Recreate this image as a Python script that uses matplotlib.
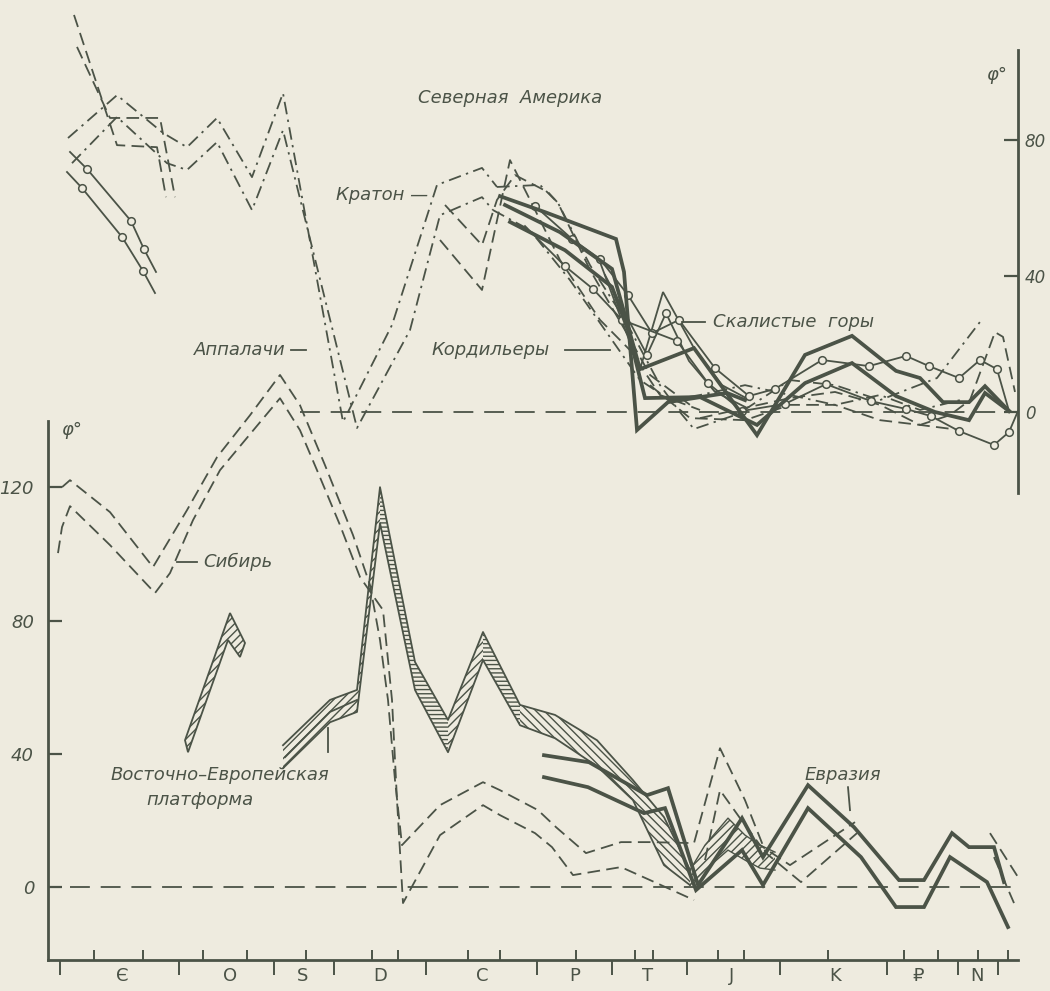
import matplotlib
matplotlib.use('Agg')
import matplotlib.pyplot as plt
import matplotlib.transforms as mtransforms

INK = '#4b5347'
PAPER = '#eeebdf'

# ---------------- time axis (positions along the geological scale) ----------------
period_labels = ['Є', 'O', 'S', 'D', 'C', 'P', 'T', 'J', 'K', '₽', 'N']
period_label_pos = [122, 230, 303, 380, 482, 575, 648, 732, 835, 918, 977]
period_bounds = [60, 179, 274, 334, 426, 537, 612, 687, 780, 887, 958, 998]
stage_ticks = [94, 143, 203, 247, 306, 372, 398, 468, 500, 576, 635, 653, 718, 744,
               828, 904, 938, 978, 1008]

# ---------------- North America (upper panel, latitude, deg) ----------------
na_cam_circ_a_x = [70, 87, 131, 144, 156]
na_cam_circ_a_y = [76.5, 71.5, 56.2, 47.9, 41.2]
na_cam_circ_b_x = [67, 82, 122, 143, 155]
na_cam_circ_b_y = [70.6, 65.9, 51.5, 41.5, 35.0]
na_cam_dash_a_x = [74, 117, 157, 166]
na_cam_dash_a_y = [116.8, 78.5, 77.9, 63.2]
na_cam_dash_b_x = [77, 110, 160, 175]
na_cam_dash_b_y = [107.4, 86.5, 86.5, 63.2]

na_app_a_x = [68, 117, 163, 187, 217, 252, 283, 343, 392, 437, 482, 497]
na_app_a_y = [80.6, 93.2, 82.1, 77.9, 86.5, 69.1, 93.8, -2.9, 25.6, 66.8, 71.8, 66.2]
na_app_b_x = [72, 117, 167, 187, 217, 252, 283, 357, 410, 440, 482, 493]
na_app_b_y = [73.2, 86.8, 73.2, 71.2, 79.4, 59.4, 82.9, -4.7, 24.1, 57.9, 63.2, 59.4]

na_kr_a_x = [440, 482, 510, 530, 560, 600, 630, 660, 700]
na_kr_a_y = [50.6, 35.9, 74.1, 62.4, 44.7, 27.1, 18.2, 5.0, 0.6]
na_kr_b_x = [445, 482, 497, 515, 548, 558, 590, 625, 650, 690]
na_kr_b_y = [60.9, 49.1, 62.4, 69.7, 64.7, 61.5, 41.8, 24.1, 10.9, 2.1]

na_t1_x = [500, 545, 616, 624, 637, 668, 727, 745]
na_t1_y = [63.5, 58.8, 50.9, 41.2, -5.3, 2.9, 5.6, 3.5]
na_t2_x = [505, 560, 612, 640, 694, 757, 805, 852, 896, 920, 943, 969, 985, 1009]
na_t2_y = [60.9, 52.9, 42.1, 12.6, 18.8, -6.8, 16.8, 22.4, 12.1, 10.0, 2.9, 2.9, 7.6, 0.3]
na_t3_x = [510, 565, 612, 628, 645, 700, 757, 805, 852, 896, 935, 969, 985, 1009]
na_t3_y = [55.9, 47.6, 36.8, 24.1, 4.1, 4.4, -3.8, 8.5, 14.4, 4.7, 0.0, -2.4, 5.6, 0.3]

na_c1_x = [535, 572, 600, 628, 652, 679, 715, 749, 775, 822, 869, 906, 929, 959, 980, 997, 1009]
na_c1_y = [60.6, 50.9, 45.0, 34.4, 23.2, 27.1, 12.9, 4.7, 6.8, 15.3, 13.5, 16.5, 13.5, 10.0,
           15.3, 12.6, 0.3]
na_c2_x = [525, 565, 593, 622, 677, 708, 742, 785, 826, 871, 906, 931, 959, 994, 1009, 1018]
na_c2_y = [54.7, 42.9, 36.2, 27.1, 20.9, 8.5, 0.3, 2.4, 8.2, 3.2, 0.9, -1.2, -5.6, -9.7,
           -5.9, 0.3]

na_r1_x = [600, 640, 663, 694, 722, 750]
na_r1_y = [44.1, 12.6, 35.3, 18.8, 7.9, 3.5]
na_r2_x = [605, 647, 666, 689, 715, 745]
na_r2_y = [40.3, 16.8, 29.1, 15.0, 5.9, 1.5]

na_d1_x = [700, 745, 790, 835, 880, 920, 950, 970, 995, 1003, 1015]
na_d1_y = [-1.8, 1.2, 4.1, 5.9, 2.1, -3.8, -0.9, 3.5, 23.5, 22.1, 5.9]
na_d2_x = [650, 690, 745, 790, 835, 880, 920, 960]
na_d2_y = [7.9, -1.8, -2.4, 2.1, 2.1, -2.4, -3.8, -5.3]
na_dd1_x = [497, 540, 558, 590, 625, 660, 679, 694, 738, 790, 835, 880, 937, 980]
na_dd1_y = [66.2, 66.8, 61.5, 43.2, 27.1, 7.9, 0.3, -5.0, -0.6, 9.4, 7.9, 3.5, 10.0, 26.5]
na_dd2_x = [493, 530, 570, 605, 640, 670, 700, 745, 790, 835, 880, 920, 960]
na_dd2_y = [59.4, 53.5, 38.8, 24.1, 9.4, 3.5, 5.0, 7.9, 5.0, 2.1, 5.0, 0.6, 3.5]

# ---------------- Eurasia (lower panel, latitude, deg) ----------------
ea_sib_a_x = [62, 70, 110, 153, 187, 217, 250, 280, 300, 325, 353, 370, 380, 388, 395, 402,
              440, 483, 500, 538, 556, 586, 621, 650, 694, 720, 745, 766, 801, 857]
ea_sib_a_y = [120.1, 122.2, 112.6, 96.1, 113.2, 129.1, 141.7, 153.8, 144.7, 126.7, 105.7,
              90.7, 74.2, 56.2, 32.1, 12.6, 24.6, 31.5, 29.1, 23.1, 18.0, 10.2, 13.5, 13.5,
              13.2, 41.7, 26.1, 10.2, 1.5, 16.2]
ea_sib_b_x = [58, 62, 70, 110, 155, 170, 193, 220, 280, 300, 317, 340, 360, 383, 392, 397,
              403, 440, 483, 500, 535, 552, 573, 621, 650, 694]
ea_sib_b_y = [100.3, 108.1, 114.4, 102.7, 88.3, 94.3, 110.2, 125.2, 146.8, 137.2, 125.2,
              108.7, 93.1, 83.2, 56.2, 26.1, -4.8, 15.6, 24.6, 21.6, 16.2, 12.0, 3.6, 6.0,
              2.1, -3.9]
ea_jk_dash_x = [705, 720, 740, 760, 790, 855]
ea_jk_dash_y = [8.1, 29.1, 20.7, 12.6, 6.6, 19.5]
ea_n_dash_a_x = [990, 1018]
ea_n_dash_a_y = [16.2, 3.0]
ea_n_dash_b_x = [994, 1014]
ea_n_dash_b_y = [9.0, -4.8]

ea_t1_x = [544, 589, 647, 668, 698, 742, 763, 808, 854, 899, 924, 952, 969, 994, 1004]
ea_t1_y = [39.6, 37.5, 27.6, 29.7, 0.6, 20.7, 9.0, 30.6, 18.0, 2.1, 2.1, 16.2, 12.0, 12.0, 1.5]
ea_t2_x = [544, 588, 644, 665, 696, 742, 763, 808, 861, 896, 924, 950, 987, 1008]
ea_t2_y = [33.0, 30.0, 22.2, 23.7, -0.9, 11.1, 0.6, 23.7, 9.0, -6.0, -6.0, 9.0, 1.5, -12.0]

# East-European platform (hatched bands)
ee_ord_outer_x = [185, 230, 245]
ee_ord_outer_y = [44.1, 82.3, 73.3]
ee_ord_inner_x = [188, 228, 240]
ee_ord_inner_y = [40.5, 74.2, 69.1]
ee_band_x = [283, 330, 357, 380, 415, 448, 483, 520, 555, 597, 633, 664, 690]
ee_band_hi = [42.6, 56.2, 59.2, 120.1, 67.6, 50.2, 76.6, 54.7, 51.7, 44.1, 32.1, 21.0, 5.1]
ee_band_lo = [35.7, 49.5, 52.6, 109.3, 59.2, 40.5, 68.2, 48.6, 44.7, 36.3, 26.1, 6.6, 0.6]
ee_sil_mid_x = [285, 330, 357]
ee_sil_mid_y = [39.0, 52.6, 56.2]
ea_jband_x = [690, 705, 728, 745, 760, 775]
ea_jband_hi = [5.1, 12.6, 20.7, 15.6, 12.6, 10.5]
ea_jband_lo = [0.6, 5.1, 11.1, 8.1, 5.7, 5.1]

# ---------------- figure ----------------
plt.rcParams['hatch.color'] = INK
plt.rcParams['hatch.linewidth'] = 1.0

fig = plt.figure(figsize=(10.5, 9.91), dpi=100, facecolor=PAPER)
pos = [48 / 1050, 31 / 991, 970 / 1050, 960 / 991]
ax_lo = fig.add_axes(pos)
ax_up = fig.add_axes(pos)
for ax in (ax_lo, ax_up):
    ax.set_facecolor('none')
    ax.set_xlim(48, 1018)
ax_lo.set_ylim(-21.9, 266.4)
ax_up.set_ylim(-161.2, 121.2)

LW = 1.3
THICK = 2.7
DASH = (0, (7, 3.5))
DASHDOT = (0, (7, 3, 1.3, 3))


def draw(ax, x, y, kind, circles=None):
    kw = dict(color=INK, solid_joinstyle='miter', clip_on=False)
    if kind == 'thick':
        ax.plot(x, y, lw=THICK, **kw)
    elif kind == 'solid':
        ax.plot(x, y, lw=LW, **kw)
    elif kind == 'dash':
        ax.plot(x, y, lw=LW, ls=DASH, **kw)
    elif kind == 'dashdot':
        ax.plot(x, y, lw=LW, ls=DASHDOT, **kw)
    elif kind == 'circ':
        ax.plot(x, y, lw=LW, marker='o', ms=5.5, mfc=PAPER, mec=INK, mew=1.1,
                markevery=circles, **kw)


# North America
draw(ax_up, na_cam_circ_a_x, na_cam_circ_a_y, 'circ', [1, 2, 3])
draw(ax_up, na_cam_circ_b_x, na_cam_circ_b_y, 'circ', [1, 2, 3])
draw(ax_up, na_cam_dash_a_x, na_cam_dash_a_y, 'dash')
draw(ax_up, na_cam_dash_b_x, na_cam_dash_b_y, 'dash')
draw(ax_up, na_app_a_x, na_app_a_y, 'dashdot')
draw(ax_up, na_app_b_x, na_app_b_y, 'dashdot')
draw(ax_up, na_kr_a_x, na_kr_a_y, 'dash')
draw(ax_up, na_kr_b_x, na_kr_b_y, 'dash')
draw(ax_up, na_dd1_x, na_dd1_y, 'dashdot')
draw(ax_up, na_dd2_x, na_dd2_y, 'dashdot')
draw(ax_up, na_d1_x, na_d1_y, 'dash')
draw(ax_up, na_d2_x, na_d2_y, 'dash')
draw(ax_up, na_r1_x, na_r1_y, 'solid')
draw(ax_up, na_r2_x, na_r2_y, 'circ', [1, 2])
draw(ax_up, na_c1_x, na_c1_y, 'circ', list(range(len(na_c1_x) - 1)))
draw(ax_up, na_c2_x, na_c2_y, 'circ', list(range(1, len(na_c2_x) - 1)))
draw(ax_up, na_t1_x, na_t1_y, 'thick')
draw(ax_up, na_t2_x, na_t2_y, 'thick')
draw(ax_up, na_t3_x, na_t3_y, 'thick')
ax_up.plot([300, 1018], [0, 0], color=INK, lw=LW, ls=(0, (11, 6)))

# Eurasia
draw(ax_lo, ea_sib_a_x, ea_sib_a_y, 'dash')
draw(ax_lo, ea_sib_b_x, ea_sib_b_y, 'dash')
draw(ax_lo, ea_jk_dash_x, ea_jk_dash_y, 'dash')
draw(ax_lo, ea_n_dash_a_x, ea_n_dash_a_y, 'dash')
draw(ax_lo, ea_n_dash_b_x, ea_n_dash_b_y, 'dash')
ax_lo.fill(ee_ord_outer_x + ee_ord_inner_x[::-1], ee_ord_outer_y + ee_ord_inner_y[::-1],
           facecolor='none', edgecolor=INK, lw=LW, hatch='////')
segments = [(0, 3, '////'), (3, 5, '----'), (5, 6, '////'), (6, 7, '----'),
            (7, 12, '\\\\\\\\')]
for i0, i1, h in segments:
    ax_lo.fill_between(ee_band_x[i0:i1 + 1], ee_band_lo[i0:i1 + 1], ee_band_hi[i0:i1 + 1],
                       facecolor='none', edgecolor=INK, hatch=h, lw=0)
ax_lo.plot(ee_band_x, ee_band_hi, color=INK, lw=LW)
ax_lo.plot(ee_band_x, ee_band_lo, color=INK, lw=LW)
draw(ax_lo, ee_sil_mid_x, ee_sil_mid_y, 'solid')
ax_lo.fill_between(ea_jband_x, ea_jband_lo, ea_jband_hi, facecolor='none', edgecolor=INK,
                   hatch='////', lw=0)
ax_lo.plot(ea_jband_x, ea_jband_hi, color=INK, lw=1.0)
ax_lo.plot(ea_jband_x, ea_jband_lo, color=INK, lw=1.0)
draw(ax_lo, ea_t1_x, ea_t1_y, 'thick')
draw(ax_lo, ea_t2_x, ea_t2_y, 'thick')
ax_lo.plot([70, 1018], [0, 0], color=INK, lw=LW, ls=(0, (11, 6)))

# ---------------- axes styling ----------------
SPW = 2.0
for s in ('top', 'right'):
    ax_lo.spines[s].set_visible(False)
ax_lo.spines['left'].set_linewidth(SPW)
ax_lo.spines['bottom'].set_linewidth(SPW)
ax_lo.spines['left'].set_color(INK)
ax_lo.spines['bottom'].set_color(INK)
ax_lo.spines['left'].set_bounds(-21.9, 140.0)
ax_lo.set_yticks([0, 40, 80, 120])
ax_lo.set_yticklabels(['0', '40', '80', '120'], fontstyle='italic', fontsize=13, color=INK)
ax_lo.tick_params(axis='y', direction='in', length=10, width=1.6, color=INK, pad=10)
ax_lo.set_xticks(period_bounds)
ax_lo.set_xticklabels([])
ax_lo.set_xticks(stage_ticks, minor=True)
ax_lo.tick_params(axis='x', which='major', direction='out', length=11, width=1.4, color=INK)
ax_lo.tick_params(axis='x', which='minor', direction='in', length=7, width=1.4, color=INK)

for s in ('top', 'left', 'bottom'):
    ax_up.spines[s].set_visible(False)
ax_up.spines['right'].set_linewidth(SPW)
ax_up.spines['right'].set_color(INK)
ax_up.spines['right'].set_bounds(-23.8, 106.5)
ax_up.xaxis.set_visible(False)
ax_up.yaxis.set_ticks_position('right')
ax_up.set_yticks([0, 40, 80])
ax_up.set_yticklabels(['0', '40', '80'], fontstyle='italic', fontsize=12, color=INK)
ax_up.tick_params(axis='y', direction='in', length=10, width=1.6, color=INK, pad=5)

trans = mtransforms.blended_transform_factory(ax_lo.transData, ax_lo.transAxes)
for lab, xp in zip(period_labels, period_label_pos):
    ax_lo.text(xp, -0.017, lab, transform=trans, ha='center', va='center', fontsize=13,
               color=INK, clip_on=False)

# ---------------- labels ----------------
TK = dict(color=INK, fontsize=13, fontstyle='italic', clip_on=False)
ax_up.text(510, 92.4, 'Северная  Америка', ha='center', va='center', **TK)
ax_up.text(428, 63.8, 'Кратон —', ha='right', va='center', **TK)
ax_up.text(286, 18.2, 'Аппалачи', ha='right', va='center', **TK)
ax_up.plot([291, 306], [18.2, 18.2], color=INK, lw=LW)
ax_up.text(432, 18.2, 'Кордильеры', ha='left', va='center', **TK)
ax_up.plot([565, 610], [18.2, 18.2], color=INK, lw=LW)
ax_up.plot([682, 705], [26.5, 26.5], color=INK, lw=LW)
ax_up.text(713, 26.5, 'Скалистые  горы', ha='left', va='center', **TK)
ax_up.text(997, 99.0, 'φ°', ha='center', va='center', **TK)

ax_lo.text(72, 137.2, 'φ°', ha='center', va='center', **TK)
ax_lo.plot([177, 197], [97.6, 97.6], color=INK, lw=LW)
ax_lo.text(203, 97.6, 'Сибирь', ha='left', va='center', **TK)
ax_lo.text(220, 33.6, 'Восточно–Европейская', ha='center', va='center', **TK)
ax_lo.text(200, 26.1, 'платформа', ha='center', va='center', **TK)
ax_lo.plot([328, 328], [47.7, 40.5], color=INK, lw=LW)
ax_lo.text(843, 33.6, 'Евразия', ha='center', va='center', **TK)
ax_lo.plot([848, 850], [30.0, 23.1], color=INK, lw=LW)

fig.savefig('out.png', dpi=100, facecolor=PAPER)
